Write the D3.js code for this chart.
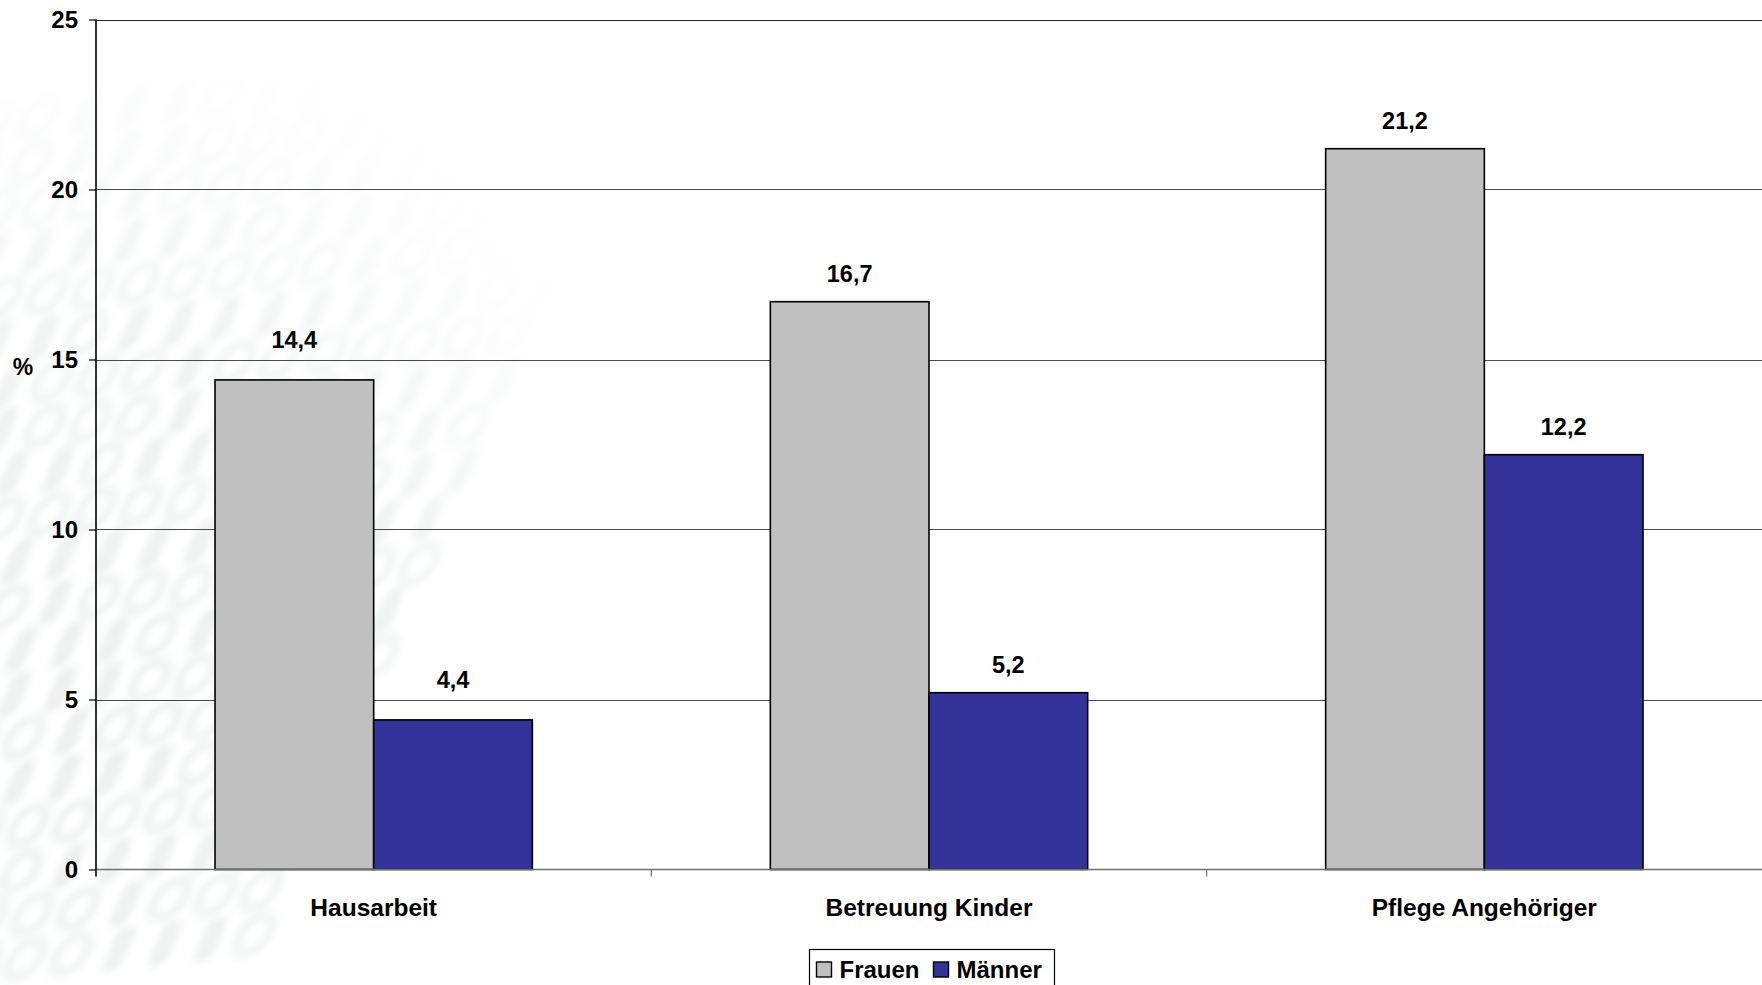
<!DOCTYPE html>
<html>
<head>
<meta charset="utf-8">
<script src="https://cdn.jsdelivr.net/npm/d3@7/dist/d3.min.js"></script>
<style>
  html, body { margin: 0; padding: 0; background: #ffffff; overflow: hidden; }
  svg { display: block; font-family: "Liberation Sans", Arial, sans-serif; }
</style>
</head>
<body>
<svg id="chart" width="1762" height="985"></svg>
<script>
// Chart data
const categories = ["Hausarbeit", "Betreuung Kinder", "Pflege Angehöriger"];
const seriesNames = ["Frauen", "Männer"];
const frauen = [14.4, 16.7, 21.2];
const maenner = [4.4, 5.2, 12.2];
const yTicks = [0, 5, 10, 15, 20, 25];
const seriesColors = ["#c0c0c0", "#333399"];

const svg = d3.select("#chart");
const W = 1762, H = 985;
const margin = { left: 96, right: 0, top: 19.5, bottom: H - 869.5 };

// faint, soft background ornament (rows of rounded glyph-like shapes)
const defs = svg.append("defs");
defs.append("filter").attr("id", "soft")
  .attr("x", "-20%").attr("y", "-20%").attr("width", "140%").attr("height", "140%")
  .append("feGaussianBlur").attr("stdDeviation", 4.5);
const fade = defs.append("radialGradient").attr("id", "fadeGrad")
  .attr("cx", 0.1).attr("cy", 0.72).attr("r", 0.8);
fade.append("stop").attr("offset", "0%").attr("stop-color", "#fff").attr("stop-opacity", 1);
fade.append("stop").attr("offset", "55%").attr("stop-color", "#fff").attr("stop-opacity", 0.8);
fade.append("stop").attr("offset", "100%").attr("stop-color", "#fff").attr("stop-opacity", 0);
defs.append("mask").attr("id", "fadeMask")
  .append("rect").attr("x", 0).attr("y", 80).attr("width", 780).attr("height", 905)
  .attr("fill", "url(#fadeGrad)");

const pattern = "0110100101101001100101101001011001101001011010011001011010010110";
const cells = [];
for (let r = 0; r < 20; r++) {
  for (let c = 0; c < 16; c++) {
    cells.push({ r, c, k: pattern[(r * 7 + c * 3) % pattern.length] });
  }
}
const orn = svg.append("g").attr("mask", "url(#fadeMask)")
  .append("g").attr("filter", "url(#soft)")
  .attr("transform", "translate(-60,110) rotate(-6) skewX(-30)");
orn.selectAll("rect").data(cells).enter().append("rect")
  .attr("x", d => d.c * 46 + (d.r % 2) * 14 + (d.k === "1" ? 12 : 0))
  .attr("y", d => d.r * 44)
  .attr("width", d => d.k === "1" ? 10 : 30)
  .attr("height", 34)
  .attr("rx", d => d.k === "1" ? 3 : 14)
  .attr("fill", "none")
  .attr("stroke", "#e3e7e7")
  .attr("stroke-width", d => d.k === "1" ? 8 : 7)
  .attr("stroke-opacity", 0.75);

// scales
const x0 = d3.scaleBand().domain(categories).range([margin.left, W - margin.right]).paddingInner(0).paddingOuter(0);
// gap of 150% of a bar width around each pair of bars
const barW = x0.bandwidth() / 3.5;
const x1 = d3.scaleBand().domain(seriesNames).range([0, 2 * barW]);
const y = d3.scaleLinear().domain([0, 25]).range([H - margin.bottom, margin.top]);

// horizontal gridlines
svg.append("g").selectAll("line").data(yTicks.filter(t => t > 0)).enter().append("line")
  .attr("x1", margin.left).attr("x2", W)
  .attr("y1", d => Math.round(y(d)) + 0.5).attr("y2", d => Math.round(y(d)) + 0.5)
  .attr("stroke", d => d === 25 ? "#222" : "#4a4a4a")
  .attr("stroke-width", 1.2);

// bars
const rows = categories.map((c, i) => ({ cat: c, i, vals: [frauen[i], maenner[i]] }));
const groups = svg.append("g").selectAll("g").data(rows).enter().append("g")
  .attr("transform", d => `translate(${x0(d.cat) + (x0.bandwidth() - 2 * barW) / 2},0)`);

groups.selectAll("rect").data(d => d.vals.map((v, j) => ({ v, s: seriesNames[j], j })))
  .enter().append("rect")
  .attr("x", d => x1(d.s))
  .attr("y", d => y(d.v))
  .attr("width", barW)
  .attr("height", d => y(0) - y(d.v))
  .attr("fill", d => seriesColors[d.j])
  .attr("stroke", "#000")
  .attr("stroke-width", 1.6);

// value labels (first group's labels sit a little higher)
const labelGap = [32, 20, 20];
groups.selectAll("text.val").data(d => d.vals.map((v, j) => ({ v, s: seriesNames[j], i: d.i })))
  .enter().append("text").attr("class", "val")
  .attr("x", d => x1(d.s) + barW / 2)
  .attr("y", d => y(d.v) - labelGap[d.i])
  .attr("text-anchor", "middle")
  .attr("font-size", 23.5)
  .attr("font-weight", "bold")
  .attr("fill", "#000")
  .text(d => d3.format(".1f")(d.v).replace(".", ","));

// x axis line at zero
svg.append("line")
  .attr("x1", margin.left).attr("x2", W)
  .attr("y1", y(0)).attr("y2", y(0))
  .attr("stroke", "#707070").attr("stroke-width", 1.6);

// category boundary ticks
const bounds = categories.slice(1).map(c => x0(c));
svg.append("g").selectAll("line").data(bounds).enter().append("line")
  .attr("x1", d => d).attr("x2", d => d)
  .attr("y1", y(0)).attr("y2", y(0) + 7)
  .attr("stroke", "#707070").attr("stroke-width", 1.2);

// category labels
svg.append("g").selectAll("text").data(categories).enter().append("text")
  .attr("x", d => x0(d) + x0.bandwidth() / 2)
  .attr("y", y(0) + 46)
  .attr("text-anchor", "middle")
  .attr("font-size", 24.5)
  .attr("font-weight", "bold")
  .attr("fill", "#000")
  .text(d => d);

// y axis
const yAxis = d3.axisLeft(y).tickValues(yTicks).tickSize(7).tickSizeOuter(0)
  .tickFormat(d3.format("d"));
const ya = svg.append("g").attr("transform", `translate(${margin.left},0)`).call(yAxis);
ya.select(".domain").remove();
ya.selectAll(".tick line").attr("stroke", "#000").attr("stroke-width", 1.2);
ya.selectAll(".tick text")
  .attr("x", -18)
  .attr("font-family", '"Liberation Sans", Arial, sans-serif')
  .attr("font-size", 24)
  .attr("font-weight", "bold")
  .attr("fill", "#000");
svg.append("line")
  .attr("x1", margin.left).attr("x2", margin.left)
  .attr("y1", y(25)).attr("y2", y(0) + 7)
  .attr("stroke", "#000").attr("stroke-width", 1.6);

// y axis unit
svg.append("text")
  .attr("x", 23).attr("y", 375)
  .attr("text-anchor", "middle")
  .attr("font-size", 23)
  .attr("font-weight", "bold")
  .attr("fill", "#000")
  .text("%");

// legend
const lg = svg.append("g").attr("transform", "translate(809.5,949.5)");
lg.append("rect").attr("x", 0).attr("y", 0).attr("width", 245).attr("height", 50)
  .attr("fill", "#fff").attr("stroke", "#000").attr("stroke-width", 1.2);
const legendX = [7, 124];
const items = lg.selectAll("g.item").data(seriesNames).enter().append("g")
  .attr("class", "item")
  .attr("transform", (d, i) => `translate(${legendX[i]},0)`);
items.append("rect")
  .attr("x", 0).attr("y", 12.5).attr("width", 15).attr("height", 15)
  .attr("fill", (d, i) => seriesColors[i])
  .attr("stroke", "#000").attr("stroke-width", 1.4);
items.append("text")
  .attr("x", 23).attr("y", 28.5)
  .attr("font-size", 24)
  .attr("font-weight", "bold")
  .attr("fill", "#000")
  .text(d => d);
</script>
</body>
</html>
